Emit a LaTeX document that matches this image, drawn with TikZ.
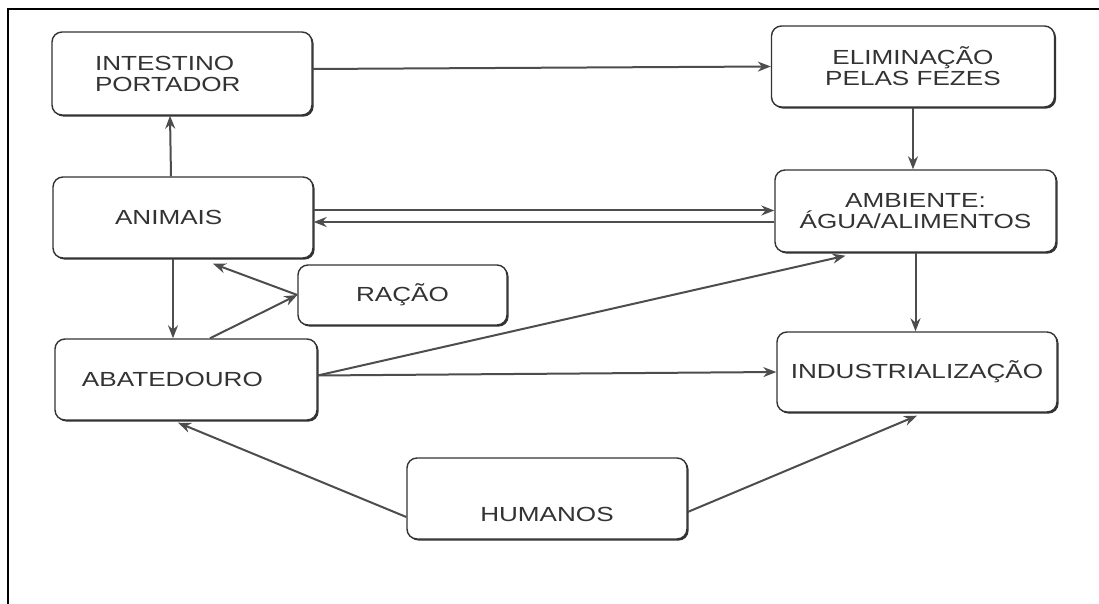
\documentclass[tikz,border=0pt]{standalone}
\usepackage{fontspec}
\usetikzlibrary{arrows.meta,shadows}
\newfontfamily\boxfont[FakeStretch=1.28]{Liberation Sans}
\definecolor{inkgray}{HTML}{333333}
\definecolor{linegray}{HTML}{4D4D4D}

\begin{document}
\begin{tikzpicture}[x=0.5pt, y=-0.5pt,
  box/.style={draw=inkgray, line width=0.7pt, rounded corners=5pt, fill=white,
    drop shadow={shadow xshift=0.8pt, shadow yshift=-0.8pt, fill=inkgray, opacity=1},
    inner sep=2pt, text=inkgray, align=center,
    font=\boxfont\fontsize{10.2}{10.5}\selectfont},
  oneline/.style={text height=7pt, text depth=0pt},
  arr/.style={draw=linegray, line width=1pt, -{Stealth[length=6.5pt, width=5pt]}}]

\useasboundingbox (0,0) rectangle (1099,604);
\fill[white] (0,0) rectangle (1099,604);
\draw[line width=1.2pt] (8,604) -- (8,9) -- (1099,9);

\node[box, minimum width=130pt, minimum height=41.5pt, text width=87pt, inner xsep=21.5pt, align=left] (intest) at (182,73.5) {INTESTINO\\PORTADOR};
\node[box, minimum width=141.5pt, minimum height=40.5pt] (elim) at (913,66.5) {ELIMINAÇÃO\\PELAS FEZES};
\node[box, oneline, minimum width=130pt, minimum height=40.5pt, text width=68pt, inner xsep=31pt, align=left] (animais) at (183,217.5) {ANIMAIS};
\node[box, minimum width=140.5pt, minimum height=41pt] (ambiente) at (915.5,211) {AMBIENTE:\\ÁGUA/ALIMENTOS};
\node[box, oneline, minimum width=104.5pt, minimum height=30pt] (racao) at (402.5,295) {RAÇÃO};
\node[box, oneline, minimum width=131pt, minimum height=40.5pt, text width=104pt, inner xsep=13.5pt, align=left] (abat) at (186,379.5) {ABATEDOURO};
\node[box, oneline, minimum width=140pt, minimum height=40pt] (indus) at (917,372) {INDUSTRIALIZAÇÃO};
\node[box, minimum width=140pt, minimum height=40.5pt, text height=23.5pt, text depth=0pt] (humanos) at (547,498.5) {HUMANOS};

\draw[arr] ([yshift=2.25pt]intest.east) -- (elim.west);
\draw[arr] ([xshift=-6pt]animais.north) -- ([xshift=-6pt]intest.south);
\draw[arr] (elim.south) -- (elim.south |- ambiente.north);
\draw[arr] ([yshift=3.5pt]animais.east) -- ([yshift=3.5pt]animais.east -| ambiente.west);
\draw[arr] ([yshift=-5.5pt]ambiente.west) -- ([yshift=-5.5pt]ambiente.west -| animais.east);
\draw[arr] ([xshift=-5pt]animais.south) -- ([xshift=-5pt]animais.south |- abat.north);
\draw[arr] (racao.west) -- ([xshift=15pt, yshift=-2.5pt]animais.south);
\draw[arr] ([xshift=12pt]abat.north) -- (racao.west);
\draw[arr] ([yshift=2pt]abat.east) -- ([xshift=-35pt, yshift=-1.5pt]ambiente.south);
\draw[arr] ([yshift=2pt]abat.east) -- (indus.west);
\draw[arr] (ambiente.south) -- (ambiente.south |- indus.north);
\draw[arr] ([yshift=-9.25pt]humanos.west) -- ([xshift=-4pt, yshift=-1pt]abat.south);
\draw[arr] ([yshift=-6.75pt]humanos.east) -- ([yshift=-1.5pt]indus.south);
\end{tikzpicture}
\end{document}
